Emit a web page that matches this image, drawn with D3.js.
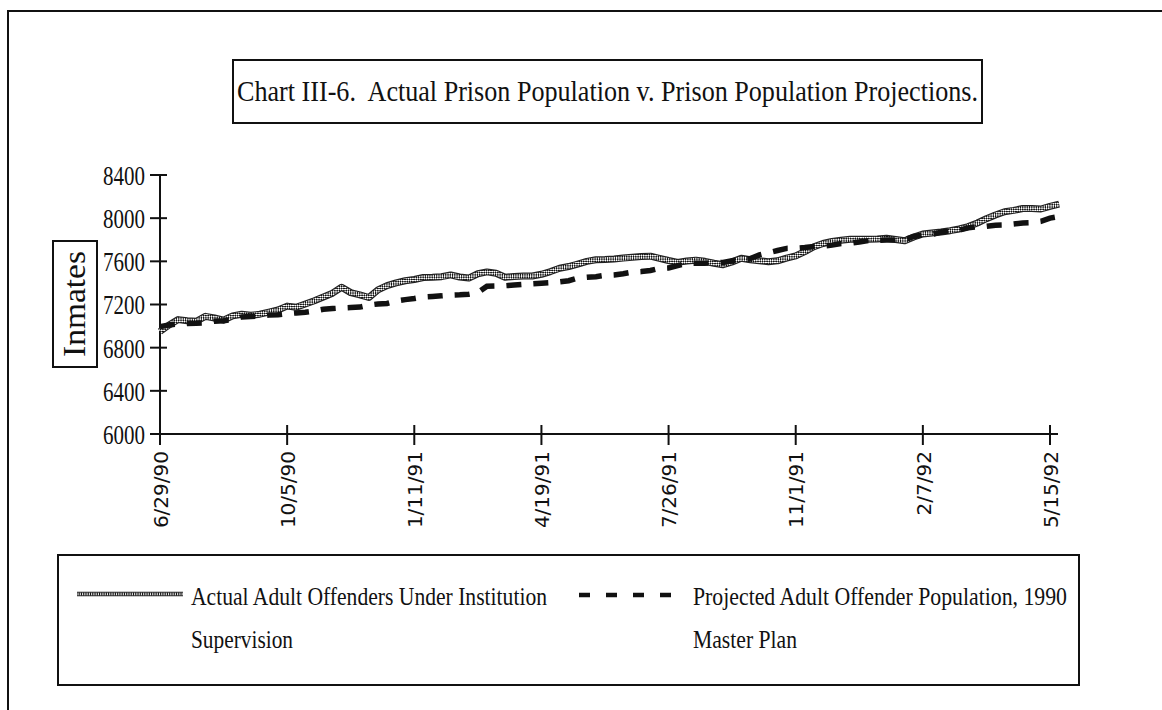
<!DOCTYPE html>
<html>
<head>
<meta charset="utf-8">
<script src="https://cdn.jsdelivr.net/npm/d3@7"></script>
<style>
  html, body { margin: 0; padding: 0; background: #fff; }
  svg { display: block; }
</style>
</head>
<body>
<svg id="chart" width="1162" height="710"></svg>
<script>
// ---------------- DATA ----------------
const titleText = "Chart III-6.  Actual Prison Population v. Prison Population Projections.";
const yLabel = "Inmates";
const startDate = "6/29/90";          // first weekly observation
const tickLabels = ["6/29/90","10/5/90","1/11/91","4/19/91","7/26/91","11/1/91","2/7/92","5/15/92"];
const yTicks = [6000, 6400, 6800, 7200, 7600, 8000, 8400];
const seriesNames = [
  ["Actual Adult Offenders Under Institution", "Supervision"],
  ["Projected Adult Offender Population, 1990", "Master Plan"]
];
// weekly values, 6/29/90 .. 5/22/92
const actual = [
  6950,7010,7060,7050,7045,7090,7075,7055,7095,7110,
  7100,7110,7130,7150,7185,7175,7205,7235,7270,7305,
  7360,7310,7290,7265,7335,7375,7400,7420,7432,7450,
  7452,7458,7474,7455,7445,7485,7502,7490,7452,7460,
  7464,7464,7480,7505,7536,7552,7575,7600,7614,7617,
  7622,7630,7637,7645,7648,7628,7608,7590,7603,7611,
  7600,7582,7568,7595,7628,7615,7605,7597,7605,7630,
  7650,7690,7735,7765,7785,7796,7804,7804,7804,7808,
  7814,7803,7790,7825,7853,7863,7872,7884,7900,7922,
  7955,7995,8030,8060,8072,8090,8090,8085,8110,8130
];
const projected = [
  6995,7010,7020,7024,7026,7030,7045,7050,7060,7085,
  7088,7095,7102,7105,7115,7122,7128,7140,7156,7162,
  7168,7172,7176,7195,7205,7210,7232,7245,7255,7270,
  7275,7280,7287,7290,7295,7310,7370,7372,7374,7380,
  7386,7392,7397,7402,7410,7420,7445,7452,7458,7470,
  7474,7485,7500,7505,7515,7535,7538,7560,7580,7582,
  7583,7584,7590,7605,7618,7625,7660,7680,7700,7720,
  7722,7728,7738,7742,7750,7765,7768,7780,7792,7795,
  7797,7798,7800,7830,7845,7850,7870,7885,7890,7910,
  7921,7925,7935,7937,7945,7955,7958,7970,8000,8015
];

// ---------------- DRAW ----------------
const svg = d3.select("#chart");
const parse = d3.utcParse("%m/%d/%y");
const t0 = parse(startDate);
const dates = actual.map((d, i) => d3.utcDay.offset(t0, 7 * i));
const tickDates = tickLabels.map(parse);

const x = d3.scaleUtc().domain([tickDates[0], tickDates[tickDates.length - 1]]).range([160, 1050]);
const y = d3.scaleLinear().domain([6000, 8400]).range([434, 175]);

const serif = "'Liberation Serif', 'Times New Roman', serif";
const sans = "'DejaVu Sans', Verdana, sans-serif";

// checker pattern for the "actual" line
const defs = svg.append("defs");
const pat = defs.append("pattern").attr("id", "checker")
  .attr("patternUnits", "userSpaceOnUse").attr("width", 3.2).attr("height", 3.2)
  .attr("patternTransform", "rotate(45)");
pat.append("rect").attr("width", 3.2).attr("height", 3.2).attr("fill", "#fff");
pat.append("rect").attr("width", 1.6).attr("height", 1.6).attr("fill", "#111");
pat.append("rect").attr("x", 1.6).attr("y", 1.6).attr("width", 1.6).attr("height", 1.6).attr("fill", "#111");

// outer frame (top and left edges)
svg.append("path").attr("d", "M8,710 L8,11 L1162,11")
  .attr("fill", "none").attr("stroke", "#111").attr("stroke-width", 2);

// title box
svg.append("rect").attr("x", 233).attr("y", 60).attr("width", 749).attr("height", 63)
  .attr("fill", "none").attr("stroke", "#111").attr("stroke-width", 2);
svg.append("text").attr("x", 237).attr("y", 101)
  .attr("font-family", serif).attr("font-size", 29).attr("fill", "#111")
  .attr("textLength", 741).attr("lengthAdjust", "spacingAndGlyphs")
  .attr("xml:space", "preserve")
  .style("white-space", "pre")
  .text(titleText);

// y label box
svg.append("rect").attr("x", 53).attr("y", 241).attr("width", 44).attr("height", 126)
  .attr("fill", "none").attr("stroke", "#111").attr("stroke-width", 2);
svg.append("text").attr("transform", "translate(85,304) rotate(-90)")
  .attr("text-anchor", "middle")
  .attr("font-family", serif).attr("font-size", 31).attr("fill", "#111")
  .attr("textLength", 106).attr("lengthAdjust", "spacingAndGlyphs")
  .text(yLabel);

// y axis
const yAxis = d3.axisLeft(y).tickValues(yTicks).tickSize(0).tickPadding(0).tickFormat(d3.format("d"));
const gy = svg.append("g").attr("transform", "translate(160,0)").call(yAxis);
gy.select(".domain").remove();
gy.selectAll("text")
  .attr("x", -15).attr("dy", "0.35em")
  .attr("font-family", serif).attr("font-size", 27).attr("fill", "#111")
  .attr("textLength", 42).attr("lengthAdjust", "spacingAndGlyphs");
svg.append("line").attr("x1", 160).attr("x2", 160).attr("y1", y(8400)).attr("y2", y(6000))
  .attr("stroke", "#111").attr("stroke-width", 2);
svg.selectAll(".ytick").data(yTicks).join("line").attr("class", "ytick")
  .attr("x1", 150).attr("x2", 167).attr("y1", d => y(d)).attr("y2", d => y(d))
  .attr("stroke", "#111").attr("stroke-width", 2);

// x axis
svg.append("line").attr("x1", 160).attr("x2", 1058).attr("y1", y(6000)).attr("y2", y(6000))
  .attr("stroke", "#111").attr("stroke-width", 2.2);
svg.selectAll(".xtick").data(tickDates).join("line").attr("class", "xtick")
  .attr("x1", d => x(d)).attr("x2", d => x(d)).attr("y1", y(6000) - 9).attr("y2", y(6000) + 11)
  .attr("stroke", "#111").attr("stroke-width", 2);
const xAxis = d3.axisBottom(x).tickValues(tickDates).tickSize(0)
  .tickFormat((d, i) => tickLabels[i]);
const gx = svg.append("g").attr("transform", `translate(0,${y(6000)})`).call(xAxis);
gx.select(".domain").remove();
gx.selectAll("text")
  .attr("transform", "rotate(-90)")
  .attr("x", -17).attr("y", 0).attr("dy", "0.36em")
  .attr("text-anchor", "end")
  .attr("font-family", sans).attr("font-size", 20).attr("fill", "#111");

// series
const line = d3.line().x((d, i) => x(dates[i])).y(d => y(d));
svg.append("path").datum(actual).attr("d", line)
  .attr("fill", "none").attr("stroke", "#222").attr("stroke-width", 7).attr("stroke-linejoin", "round");
svg.append("path").datum(actual).attr("d", line)
  .attr("fill", "none").attr("stroke", "url(#checker)").attr("stroke-width", 4.6)
  .attr("stroke-linejoin", "round");
svg.append("path").datum(projected).attr("d", line)
  .attr("fill", "none").attr("stroke", "#111").attr("stroke-width", 5.5)
  .attr("stroke-dasharray", "15,12");

// legend box
svg.append("rect").attr("x", 58).attr("y", 555).attr("width", 1021).attr("height", 130)
  .attr("fill", "none").attr("stroke", "#111").attr("stroke-width", 2);
// legend symbols
svg.append("line").attr("x1", 77).attr("x2", 183).attr("y1", 594).attr("y2", 594)
  .attr("stroke", "#222").attr("stroke-width", 4.5);
svg.append("line").attr("x1", 77).attr("x2", 183).attr("y1", 594).attr("y2", 594)
  .attr("stroke", "url(#checker)").attr("stroke-width", 2.6);
svg.append("line").attr("x1", 579).attr("x2", 671).attr("y1", 595).attr("y2", 595)
  .attr("stroke", "#111").attr("stroke-width", 4.5).attr("stroke-dasharray", "11,16");
// legend texts
const legendPos = [[191, [356, 102]], [693, [374, 104]]];
seriesNames.forEach((lines, k) => {
  lines.forEach((t, j) => {
    svg.append("text").attr("x", legendPos[k][0]).attr("y", 605 + 43 * j)
      .attr("font-family", serif).attr("font-size", 25).attr("fill", "#111")
      .attr("textLength", legendPos[k][1][j]).attr("lengthAdjust", "spacingAndGlyphs")
      .text(t);
  });
});
</script>
</body>
</html>
